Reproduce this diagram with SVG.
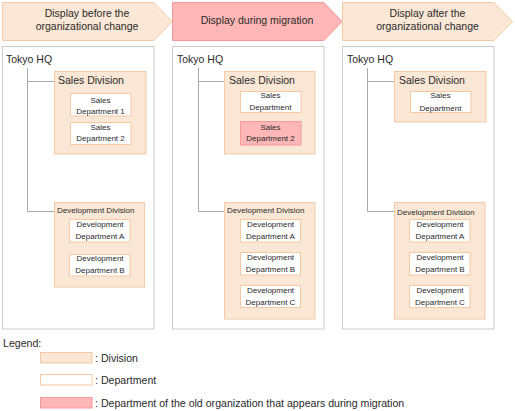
<svg xmlns="http://www.w3.org/2000/svg" width="515" height="411" viewBox="0 0 515 411">
<style>
text{font-family:"Liberation Sans",Arial,sans-serif;fill:#2a2a2a}
.hdr{font-size:10.5px;text-anchor:middle}
.t{font-size:10.5px}
.s{font-size:8px}
.c{font-size:8px;text-anchor:middle}
.lg{font-size:10.6px}
.arrow{fill:#fbe7d6;stroke:#f4c9a3;stroke-width:1}
.arrowp{fill:#ffb6b6;stroke:#f59a9a;stroke-width:1}
.panel{fill:#fff;stroke:#cccccc;stroke-width:1}
.div{fill:#fbe7d6;stroke:#f4c9a3;stroke-width:1}
.dep{fill:#fff;stroke:#f4c9a3;stroke-width:1}
.old{fill:#ffb6b6;stroke:#f59a9a;stroke-width:1}
.ln{fill:none;stroke:#aaaaaa;stroke-width:1}
</style>
<rect width="515" height="411" fill="#fff"/>

<g id="header-before">
<polygon class="arrow" points="2.5,2.5 154,2.5 172,21.5 154,40.5 2.5,40.5"/>
<text class="hdr" x="87" y="17">Display before the</text>
<text class="hdr" x="87" y="30">organizational change</text>
</g>
<g id="header-during">
<polygon class="arrowp" points="172.5,2.5 324,2.5 342,21.5 324,40.5 172.5,40.5"/>
<text class="hdr" x="257" y="24">Display during migration</text>
</g>
<g id="header-after">
<polygon class="arrow" points="342.5,2.5 494,2.5 512.5,21.5 494,40.5 342.5,40.5"/>
<text class="hdr" x="427.5" y="17">Display after the</text>
<text class="hdr" x="427.5" y="30">organizational change</text>
</g>

<g id="panel-before">
<rect class="panel" x="2.5" y="46.5" width="151.5" height="282.5"/>
<text class="t" x="6" y="63">Tokyo HQ</text>
</g>
<g id="panel-during">
<rect class="panel" x="172.5" y="46.5" width="151.5" height="282.5"/>
<text class="t" x="177" y="63">Tokyo HQ</text>
</g>
<g id="panel-after">
<rect class="panel" x="342.5" y="46.5" width="151.5" height="282.5"/>
<text class="t" x="347" y="63">Tokyo HQ</text>
</g>

<g id="connectors">
<path class="ln" d="M27.5,68 V211.5 H54.5 M27.5,81.5 H54.5"/>
<path class="ln" d="M198.5,68 V211.5 H224.5 M198.5,81.5 H224.5"/>
<path class="ln" d="M367.5,68 V211.5 H394.5 M367.5,81.5 H394.5"/>
</g>

<!-- Panel 1 -->
<g id="sales-div-1">
<rect class="div" x="54.5" y="71.5" width="91.5" height="82.5"/>
<text class="t" x="58" y="84">Sales Division</text>
</g>
<g id="sales-dep1-1">
<rect class="dep" x="70.5" y="93.5" width="60.5" height="22.5"/>
<text class="c" x="100.5" y="102.5">Sales</text>
<text class="c" x="100.5" y="113.5">Department 1</text>
</g>
<g id="sales-dep2-1">
<rect class="dep" x="70.5" y="122.5" width="60.5" height="22"/>
<text class="c" x="100.5" y="130">Sales</text>
<text class="c" x="100.5" y="141">Department 2</text>
</g>
<g id="dev-div-1">
<rect class="div" x="54.5" y="202.5" width="90" height="84.5"/>
<text class="s" x="57" y="213">Development Division</text>
</g>
<g id="dev-a-1">
<rect class="dep" x="69.5" y="219.5" width="60.5" height="22.5"/>
<text class="c" x="100" y="227">Development</text>
<text class="c" x="100" y="239">Department A</text>
</g>
<g id="dev-b-1">
<rect class="dep" x="69.5" y="254.5" width="60.5" height="21.5"/>
<text class="c" x="100" y="261">Development</text>
<text class="c" x="100" y="273">Department B</text>
</g>

<!-- Panel 2 -->
<g id="sales-div-2">
<rect class="div" x="224.5" y="71.5" width="90.5" height="82.5"/>
<text class="t" x="229" y="84">Sales Division</text>
</g>
<g id="sales-dep-2">
<rect class="dep" x="240.5" y="91.5" width="60.5" height="21"/>
<text class="c" x="270.5" y="97.5">Sales</text>
<text class="c" x="270.5" y="110">Department</text>
</g>
<g id="sales-dep2-old">
<rect class="old" x="240.5" y="121.5" width="60.5" height="23.5"/>
<text class="c" x="270.5" y="129.5">Sales</text>
<text class="c" x="270.5" y="141">Department 2</text>
</g>
<g id="dev-div-2">
<rect class="div" x="224.5" y="202.5" width="90.5" height="116.5"/>
<text class="s" x="227" y="213">Development Division</text>
</g>
<g id="dev-a-2">
<rect class="dep" x="240.5" y="219.5" width="60" height="22.5"/>
<text class="c" x="270.5" y="226.5">Development</text>
<text class="c" x="270.5" y="238.5">Department A</text>
</g>
<g id="dev-b-2">
<rect class="dep" x="240.5" y="252.5" width="60" height="22.5"/>
<text class="c" x="270.5" y="259.5">Development</text>
<text class="c" x="270.5" y="271.5">Department B</text>
</g>
<g id="dev-c-2">
<rect class="dep" x="240.5" y="285.5" width="60" height="22"/>
<text class="c" x="270.5" y="292.5">Development</text>
<text class="c" x="270.5" y="304.5">Department C</text>
</g>

<!-- Panel 3 -->
<g id="sales-div-3">
<rect class="div" x="394.5" y="71.5" width="91.5" height="50.5"/>
<text class="t" x="399" y="84">Sales Division</text>
</g>
<g id="sales-dep-3">
<rect class="dep" x="410.5" y="91.5" width="60.5" height="21"/>
<text class="c" x="440.5" y="98">Sales</text>
<text class="c" x="440.5" y="110.5">Department</text>
</g>
<g id="dev-div-3">
<rect class="div" x="394.5" y="202.5" width="90.5" height="116.5"/>
<text class="s" x="397" y="214.5">Development Division</text>
</g>
<g id="dev-a-3">
<rect class="dep" x="409.5" y="219.5" width="60.5" height="22.5"/>
<text class="c" x="440" y="226.5">Development</text>
<text class="c" x="440" y="238.5">Department A</text>
</g>
<g id="dev-b-3">
<rect class="dep" x="409.5" y="252.5" width="60.5" height="22.5"/>
<text class="c" x="440" y="259.5">Development</text>
<text class="c" x="440" y="271.5">Department B</text>
</g>
<g id="dev-c-3">
<rect class="dep" x="409.5" y="285.5" width="60.5" height="22"/>
<text class="c" x="440" y="292.5">Development</text>
<text class="c" x="440" y="304.5">Department C</text>
</g>

<g id="legend">
<text class="lg" x="3" y="347">Legend:</text>
<rect class="div" x="40.5" y="352.5" width="51.5" height="10.5"/>
<text class="lg" x="95" y="361.5">: Division</text>
<rect class="dep" x="40.5" y="374.5" width="51.5" height="10.5"/>
<text class="lg" x="95" y="383.5">: Department</text>
<rect class="old" x="40.5" y="397.5" width="51.5" height="10.5"/>
<text class="lg" x="95" y="406.5">: Department of the old organization that appears during migration</text>
</g>
</svg>
